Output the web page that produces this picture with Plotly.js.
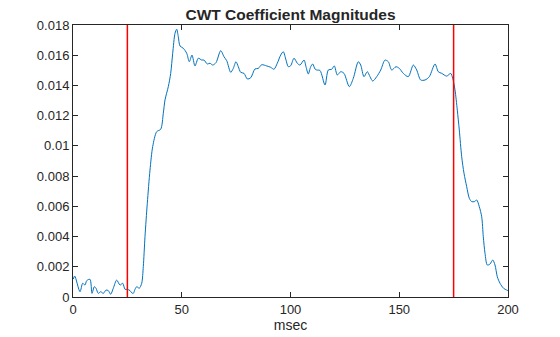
<!DOCTYPE html>
<html>
<head>
<meta charset="utf-8">
<script src="https://cdn.plot.ly/plotly-3.0.1.min.js"></script>
<style>html,body{margin:0;padding:0;background:#fff}#chart{width:560px;height:337px}</style>
</head>
<body>
<div id="chart"></div>
<script>
const timeMs = [0.14,0.78,3.22,4.46,5.52,6.30,7.82,8.74,9.79,10.57,11.63,12.74,13.93,15.17,16.23,17.33,18.53,20.09,21.61,22.85,23.91,24.97,26.21,26.99,27.72,28.51,29.29,30.48,31.59,32.32,33.10,34.16,35.40,36.64,38.48,40.32,41.52,42.30,43.82,44.92,45.84,46.90,47.68,48.41,49.20,50.71,52.28,53.47,54.71,56.09,57.61,59.17,60.23,61.75,62.99,64.23,65.75,67.91,69.43,70.67,72.51,73.70,74.94,76.00,77.10,78.62,80.14,81.70,83.68,85.20,86.76,89.06,90.90,92.41,93.93,95.49,96.69,97.93,98.99,100.09,101.61,103.13,104.37,106.21,107.13,108.18,109.29,110.21,111.26,112.05,113.56,115.86,117.38,118.94,120.14,121.52,123.08,124.60,127.03,128.87,131.17,132.28,133.79,135.31,136.55,137.79,139.63,141.47,143.45,144.97,146.53,148.51,150.02,151.86,154.16,156.46,158.02,159.86,161.84,163.82,166.44,167.95,169.52,171.82,173.66,174.57,175.63,176.69,177.61,178.71,179.77,181.01,182.21,183.31,184.51,185.61,186.80,187.91,188.64,189.43,190.48,191.72,192.97,194.02,195.08,196.32,197.93,199.40,200.0];
const cwtMag = [0.00119,0.00139,0.00035,0.00091,0.00079,0.00108,0.00117,0.00024,0.00068,0.00058,0.00024,0.00035,0.00024,0.00046,0.00042,0.00018,0.00058,0.00112,0.00079,0.00091,0.00051,0.00051,0.00042,0.00028,0.00024,0.00051,0.00068,0.00058,0.00091,0.00201,0.00399,0.00620,0.00840,0.00995,0.01094,0.01110,0.01216,0.01304,0.01392,0.01480,0.01613,0.01745,0.01772,0.01723,0.01661,0.01646,0.01613,0.01557,0.01601,0.01529,0.01580,0.01568,0.01568,0.01542,0.01547,0.01535,0.01551,0.01630,0.01590,0.01564,0.01487,0.01513,0.01557,0.01524,0.01487,0.01480,0.01443,0.01451,0.01509,0.01513,0.01537,0.01529,0.01520,0.01507,0.01547,0.01601,0.01623,0.01568,0.01524,0.01531,0.01580,0.01547,0.01535,0.01568,0.01524,0.01476,0.01524,0.01542,0.01509,0.01502,0.01499,0.01403,0.01502,0.01507,0.01529,0.01469,0.01491,0.01480,0.01392,0.01447,0.01557,0.01535,0.01458,0.01491,0.01458,0.01429,0.01458,0.01502,0.01568,0.01557,0.01502,0.01524,0.01513,0.01480,0.01458,0.01535,0.01502,0.01436,0.01436,0.01458,0.01542,0.01491,0.01480,0.01462,0.01480,0.01447,0.01370,0.01237,0.01105,0.00928,0.00819,0.00730,0.00653,0.00631,0.00631,0.00642,0.00598,0.00531,0.00399,0.00289,0.00212,0.00218,0.00245,0.00212,0.00134,0.00091,0.00058,0.00046,0.00042];
const markerTimes = [25, 175];
const yRange = [0, 0.018];
const xTicks = [0, 50, 100, 150, 200];
const yTicks = [0,0.002,0.004,0.006,0.008,0.01,0.012,0.014,0.016,0.018];
const yTickText = ['0','0.002','0.004','0.006','0.008','0.01','0.012','0.014','0.016','0.018'];

const traces = [{
  x: timeMs, y: cwtMag, type: 'scatter', mode: 'lines',
  line: {color: '#0072BD', width: 1, shape: 'spline', smoothing: 0.8},
  hoverinfo: 'skip'
}];
markerTimes.forEach(t => traces.push({
  x: [t, t], y: yRange, type: 'scatter', mode: 'lines',
  line: {color: '#FF0000', width: 1.5}, hoverinfo: 'skip'
}));

const axisCommon = {
  showline: true, linecolor: '#262626', linewidth: 1, mirror: 'ticks',
  ticks: 'inside', ticklen: 5, tickwidth: 1, tickcolor: '#262626',
  showgrid: false, zeroline: false,
  tickfont: {family: 'Liberation Sans, Arial, sans-serif', size: 13, color: '#262626'}
};

const layout = {
  width: 560, height: 337,
  margin: {l: 73, r: 52, t: 25, b: 40},
  paper_bgcolor: '#ffffff', plot_bgcolor: '#ffffff',
  showlegend: false,
  title: {
    text: '<b>CWT Coefficient Magnitudes</b>',
    font: {family: 'Liberation Sans, Arial, sans-serif', size: 15.5, color: '#262626'},
    x: 0.5, xref: 'paper', xanchor: 'center',
    y: 1, yref: 'paper', yanchor: 'bottom', pad: {b: 5}
  },
  xaxis: Object.assign({}, axisCommon, {
    range: [0, 200], tickvals: xTicks, ticktext: xTicks.map(String),
    title: {text: 'msec', standoff: 4, font: {family: 'Liberation Sans, Arial, sans-serif', size: 14, color: '#262626'}}
  }),
  yaxis: Object.assign({}, axisCommon, {
    range: yRange, tickvals: yTicks, ticktext: yTickText
  })
};

Plotly.newPlot('chart', traces, layout, {displayModeBar: false, staticPlot: true});
</script>
</body>
</html>
